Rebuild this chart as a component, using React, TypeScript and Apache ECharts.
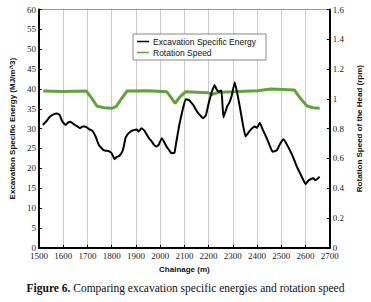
import React, { useEffect, useRef } from "react";
import * as echarts from "echarts";

const energyChainage = [1516, 1530, 1545, 1560, 1575, 1585, 1595, 1610, 1620, 1630, 1640, 1649, 1660, 1669, 1680, 1688, 1700, 1708, 1720, 1734, 1747, 1755, 1766, 1780, 1792, 1800, 1812, 1820, 1831, 1844, 1850, 1857, 1865, 1877, 1890, 1903, 1912, 1923, 1935, 1942, 1955, 1965, 1975, 1985, 1994, 2007, 2015, 2027, 2038, 2046, 2059, 2065, 2079, 2090, 2105, 2118, 2125, 2137, 2147, 2157, 2167, 2177, 2189, 2195, 2202, 2212, 2224, 2232, 2241, 2253, 2261, 2276, 2285, 2294, 2308, 2326, 2340, 2352, 2362, 2372, 2382, 2391, 2400, 2411, 2424, 2433, 2443, 2453, 2463, 2472, 2482, 2495, 2509, 2518, 2528, 2538, 2548, 2558, 2567, 2577, 2587, 2600, 2610, 2619, 2632, 2640, 2645, 2658];
const energyValues = [30.9, 31.8, 33, 33.6, 33.8, 33.5, 32, 30.9, 31.5, 31.7, 31.3, 30.9, 30.5, 30.1, 30.5, 30.5, 30.2, 29.8, 29.5, 28, 25.9, 25.3, 24.6, 24.4, 24.2, 23.8, 22.3, 22.8, 23.1, 24.2, 25.5, 27.6, 28.5, 29.2, 29.6, 29.8, 29.3, 30.1, 29.5, 28.8, 27.5, 26.8, 25.9, 25.5, 25.9, 27.6, 26.8, 25.4, 24.5, 23.8, 23.9, 26, 30.9, 34, 37.4, 37.2, 36.8, 35.9, 34.8, 33.9, 33.2, 32.6, 33.4, 35, 36.8, 39, 41, 40, 39.3, 39.6, 32.8, 35.5, 36.5, 38, 41.7, 36.4, 31.5, 28, 28.8, 29.6, 30.2, 30.5, 30.2, 31.5, 29.6, 28.5, 27.1, 25.6, 24.2, 24.3, 24.6, 26.2, 27.3, 26.5, 25.4, 24.2, 22.9, 21.3, 20, 18.8, 17.5, 16, 16.8, 17.2, 17.5, 17, 17.2, 17.9];

const speedChainage = [1518, 1600, 1695, 1720, 1740, 1770, 1800, 1818, 1840, 1864, 1950, 2027, 2045, 2062, 2080, 2105, 2200, 2216, 2240, 2300, 2400, 2456, 2553, 2580, 2606, 2630, 2658];
const speedValues = [1.053, 1.05, 1.053, 1.0, 0.95, 0.94, 0.936, 0.947, 1.0, 1.053, 1.055, 1.048, 1.01, 0.97, 1.01, 1.048, 1.04, 1.03, 1.044, 1.048, 1.055, 1.066, 1.06, 1.0, 0.952, 0.94, 0.936];

const seriesNames = ["Excavation Specific Energy", "Rotation Speed"];
const xAxisName = "Chainage (m)";
const yLeftName = "Excavation Specific Energy (MJ/m^3)";
const yRightName = "Rotation Speed of the Head (rpm)";
const captionBold = "Figure 6.";
const captionRest = " Comparing excavation specific energies and rotation speed";

export default function App() {
  const ref = useRef<HTMLDivElement>(null);
  useEffect(() => {
    if (!ref.current) return;
    const chart = echarts.init(ref.current, null, { renderer: "svg" });
    const serif = "'Liberation Serif', 'DejaVu Serif', serif";
    const sans = "'Liberation Sans', Arial, sans-serif";
    const tickLabel = { fontFamily: serif, fontSize: 9, color: "#222" };
    chart.setOption({
      animation: false,
      backgroundColor: "#fff",
      grid: {
        left: 33.5,
        right: 30.5,
        top: 9.5,
        bottom: 54.3,
        show: true,
        borderColor: "#999",
        borderWidth: 1,
      },
      legend: {
        left: 133,
        top: 34,
        orient: "vertical",
        backgroundColor: "#fff",
        borderColor: "#888",
        borderWidth: 1,
        borderRadius: 0,
        padding: [3, 10, 3, 4],
        itemGap: 2,
        itemWidth: 12,
        itemHeight: 8,
        icon: "path://M0,4 L12,4 L12,5.5 L0,5.5 Z",
        textStyle: { fontFamily: sans, fontSize: 8.5, color: "#111", padding: [0, 0, 0, -1] },
        data: seriesNames,
      },
      xAxis: {
        type: "value",
        min: 1500,
        max: 2700,
        interval: 100,
        name: xAxisName,
        nameLocation: "middle",
        nameGap: 15,
        nameTextStyle: { fontFamily: sans, fontSize: 8, fontWeight: "bold", color: "#111" },
        axisLine: { lineStyle: { color: "#000", width: 2 } },
        axisTick: { inside: true, length: 3, lineStyle: { color: "#000" } },
        axisLabel: { ...tickLabel, margin: 4, formatter: (v: number) => String(v) },
        splitLine: { show: true, lineStyle: { color: "#999", type: "dotted", width: 1 } },
      },
      yAxis: [
        {
          type: "value",
          min: 0,
          max: 60,
          interval: 5,
          name: yLeftName,
          nameLocation: "middle",
          nameGap: 18,
          nameTextStyle: { fontFamily: sans, fontSize: 8, fontWeight: "bold", color: "#111" },
          axisLine: { show: true, lineStyle: { color: "#000", width: 2 } },
          axisTick: { show: true, inside: true, length: 3, lineStyle: { color: "#000" } },
          axisLabel: { ...tickLabel, margin: 3 },
          splitLine: { show: false },
        },
        {
          type: "value",
          min: 0,
          max: 1.6,
          interval: 0.2,
          position: "right",
          name: yRightName,
          nameLocation: "middle",
          nameGap: 25,
          nameTextStyle: { fontFamily: sans, fontSize: 8, fontWeight: "bold", color: "#111" },
          axisLine: { show: true, lineStyle: { color: "#000", width: 2 } },
          axisTick: { show: true, inside: true, length: 3, lineStyle: { color: "#000" } },
          axisLabel: { ...tickLabel, margin: 3 },
          splitLine: { show: false },
        },
      ],
      series: [
        {
          name: seriesNames[0],
          type: "line",
          yAxisIndex: 0,
          showSymbol: false,
          symbol: "none",
          smooth: 0.1,
          lineStyle: { color: "#000", width: 2 },
          itemStyle: { color: "#000" },
          data: energyChainage.map((c, i) => [c, energyValues[i]]),
          z: 3,
        },
        {
          name: seriesNames[1],
          type: "line",
          yAxisIndex: 1,
          showSymbol: false,
          symbol: "none",
          lineStyle: { color: "#5fa33a", width: 3 },
          itemStyle: { color: "#5fa33a" },
          data: speedChainage.map((c, i) => [c, speedValues[i]]),
          z: 2,
        },
      ],
      graphic: [
        {
          type: "text",
          left: "center",
          top: 282,
          style: {
            text: `{b|${captionBold}}{n|${captionRest}}`,
            rich: {
              b: { fontFamily: serif, fontSize: 11.5, fontWeight: "bold", fill: "#111" },
              n: { fontFamily: serif, fontSize: 11.5, fill: "#111" },
            },
          },
        },
      ],
    });
    return () => chart.dispose();
  }, []);
  return <div ref={ref} style={{ width: 371, height: 302, position: "absolute", left: 0, top: 0 }} />;
}
